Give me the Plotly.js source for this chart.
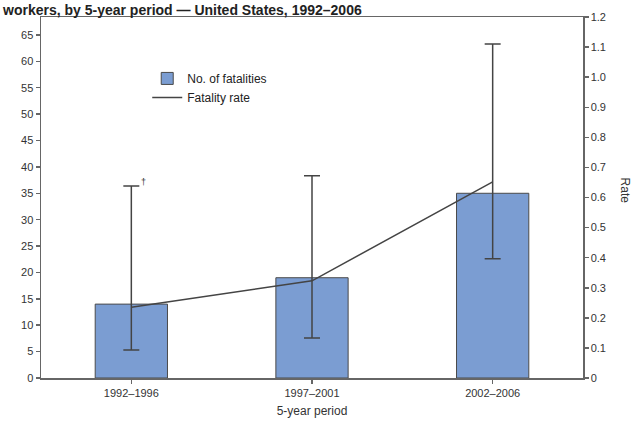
<!DOCTYPE html>
<html>
<head>
<meta charset="utf-8">
<script src="https://cdn.plot.ly/plotly-3.0.1.min.js"></script>
<style>html,body{margin:0;padding:0;background:#fff;}#chart{width:633px;height:423px;}</style>
</head>
<body>
<div id="chart"></div>
<script>
const periods = ["1992–1996", "1997–2001", "2002–2006"];
const fatalities = [14, 19, 35];
const fatalityRate = [0.235, 0.323, 0.652];
const rateCIUpper = [0.638, 0.672, 1.11];
const rateCILower = [0.093, 0.133, 0.396];
const leftTicks = [0, 5, 10, 15, 20, 25, 30, 35, 40, 45, 50, 55, 60, 65];
const rightTicks = [0, 0.1, 0.2, 0.3, 0.4, 0.5, 0.6, 0.7, 0.8, 0.9, 1.0, 1.1, 1.2];
const rightTickText = ["0", "0.1", "0.2", "0.3", "0.4", "0.5", "0.6", "0.7", "0.8", "0.9", "1.0", "1.1", "1.2"];
const titleText = "workers, by 5-year period — United States, 1992–2006";

const errPlus = fatalityRate.map((v, i) => rateCIUpper[i] - v);
const errMinus = fatalityRate.map((v, i) => v - rateCILower[i]);

const axisColor = "#666";
const fam = "Liberation Sans, Arial, sans-serif";
const tickFont = {family: fam, size: 11, color: "#333"};

const traces = [
  {
    type: "bar", name: "No. of fatalities", x: periods, y: fatalities,
    marker: {color: "#7B9DD2", line: {color: "#4a4a4a", width: 1}},
    width: 0.4, yaxis: "y", hoverinfo: "skip"
  },
  {
    type: "scatter", mode: "lines", name: "Fatality rate", x: periods, y: fatalityRate,
    yaxis: "y2", line: {color: "#444", width: 1.5},
    error_y: {type: "data", symmetric: false, array: errPlus, arrayminus: errMinus,
              color: "#444", thickness: 1.5, width: 8}
  }
];

const layout = {
  width: 633, height: 423,
  margin: {l: 41, r: 50, t: 17, b: 45, pad: 0},
  paper_bgcolor: "#fff", plot_bgcolor: "#fff",
  font: tickFont,
  showlegend: true,
  legend: {x: 0.196, y: 0.87, xanchor: "left", yanchor: "top", bgcolor: "rgba(0,0,0,0)",
           font: {family: fam, size: 12, color: "#222"},
           traceorder: "normal", tracegroupgap: 0, itemwidth: 30},
  xaxis: {
    type: "category", showline: true, linecolor: axisColor, linewidth: 1.5, mirror: true,
    ticks: "outside", ticklen: 4, tickcolor: axisColor, tickwidth: 1.5,
    showgrid: false, zeroline: false, tickfont: tickFont,
    title: {text: "5-year period", font: {family: fam, size: 12, color: "#333"}, standoff: 9}
  },
  yaxis: {
    range: [0, 68.4], tickvals: leftTicks, showline: true, linecolor: axisColor, linewidth: 1.5,
    ticks: "outside", ticklen: 4, tickcolor: axisColor, tickwidth: 1.5,
    showgrid: false, zeroline: false, tickfont: tickFont
  },
  yaxis2: {
    overlaying: "y", side: "right", range: [0, 1.2], tickvals: rightTicks, ticktext: rightTickText,
    showline: true, linecolor: axisColor, linewidth: 1.5,
    ticks: "outside", ticklen: 4, tickcolor: axisColor, tickwidth: 1.5,
    showgrid: false, zeroline: false, tickfont: tickFont
  },
  annotations: [
    {text: titleText, xref: "paper", yref: "paper", x: -0.0756, y: 1.047, xanchor: "left", yanchor: "top",
     showarrow: false, font: {family: fam, size: 14, color: "#222", weight: "bold"}},
    {text: "Rate", xref: "paper", yref: "paper", x: 1.077, y: 0.52, xanchor: "center", yanchor: "middle", textangle: 90,
     showarrow: false, font: {family: fam, size: 12, color: "#333"}},
    {text: "†", xref: "x", yref: "y2", x: periods[0], y: rateCIUpper[0], xshift: 12, yshift: 4,
     showarrow: false, font: {family: fam, size: 9, color: "#333"}}
  ]
};

Plotly.newPlot("chart", traces, layout, {displayModeBar: false, staticPlot: true});
</script>
</body>
</html>
